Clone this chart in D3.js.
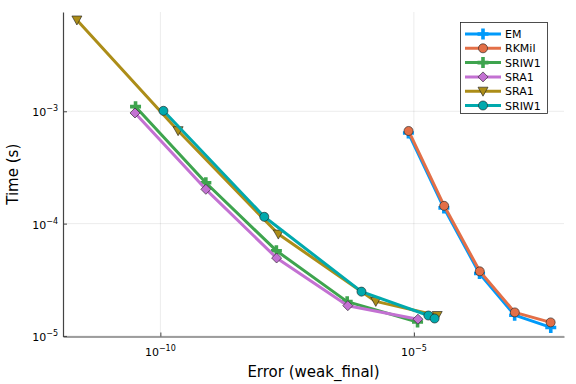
<!DOCTYPE html>
<html>
<head>
<meta charset="utf-8">
<script src="https://cdn.jsdelivr.net/npm/d3@7"></script>
<style>
  body { margin: 0; background: #fff; }
  text { font-family: "DejaVu Sans", sans-serif; fill: #000; }
</style>
</head>
<body>
<div id="wrapper"></div>
<script>
// errors (x) and times (y)
const emErr = [7.8e-6, 3.9e-5, 1.97e-4, 9.7e-4, 5.0e-3];
const emTime = [6.41e-4, 1.38e-4, 3.6e-5, 1.53e-5, 1.19e-5];

const rkmilErr = [7.85e-6, 3.95e-5, 1.99e-4, 9.77e-4, 4.97e-3];
const rkmilTime = [6.68e-4, 1.44e-4, 3.76e-5, 1.62e-5, 1.32e-5];

const sriwErr = [3.24e-11, 7.89e-10, 1.94e-8, 4.83e-7, 1.18e-5];
const sriwTime = [1.10e-3, 2.31e-4, 5.74e-5, 2.02e-5, 1.33e-5];

const sraErr = [3.16e-11, 7.89e-10, 1.96e-8, 4.97e-7, 1.20e-5];
const sraTime = [9.66e-4, 2.02e-4, 4.94e-5, 1.86e-5, 1.41e-5];

const sra2Err = [2.26e-12, 2.24e-10, 2.12e-8, 1.77e-6, 2.88e-5];
const sra2Time = [6.5e-3, 6.72e-4, 8.07e-5, 2.03e-5, 1.52e-5];

const sriw2Err = [1.15e-10, 1.12e-8, 9.25e-7, 1.93e-5, 2.56e-5];
const sriw2Time = [1.01e-3, 1.15e-4, 2.48e-5, 1.52e-5, 1.43e-5];

const seriesNames = ["EM", "RKMil", "SRIW1", "SRA1", "SRA1", "SRIW1"];
const xTicks = [1e-10, 1e-5];
const xTickExp = ["−10", "−5"];
const yTicks = [1e-3, 1e-4, 1e-5];
const yTickExp = ["−3", "−4", "−5"];

const colors = ["#009AFA", "#E36F47", "#3EA44E", "#C371D2", "#AC8D18", "#00A9AD"];
const shapes = ["plus", "circle", "plus", "diamond", "triDown", "circle"];

const allErr = [emErr, rkmilErr, sriwErr, sraErr, sra2Err, sriw2Err];
const allTime = [emTime, rkmilTime, sriwTime, sraTime, sra2Time, sriw2Time];

const series = seriesNames.map((name, i) => ({
    name,
    color: colors[i],
    shape: shapes[i],
    points: allErr[i].map((e, j) => ({ err: e, time: allTime[i][j] })),
}));

let dimensions = {
    width: 576,
    height: 384,
    margin: { top: 12, right: 12, bottom: 47.5, left: 63 },
};
dimensions.boundedWidth = dimensions.width - dimensions.margin.left - dimensions.margin.right;
dimensions.boundedHeight = dimensions.height - dimensions.margin.top - dimensions.margin.bottom;

const svg = d3.select("#wrapper").append("svg")
    .attr("width", dimensions.width)
    .attr("height", dimensions.height);

const bounds = svg.append("g")
    .attr("transform", `translate(${dimensions.margin.left},${dimensions.margin.top})`);

const xScale = d3.scaleLog()
    .domain([Math.pow(10, -11.92), Math.pow(10, -2.04)])
    .range([0, dimensions.boundedWidth]);

const yScale = d3.scaleLog()
    .domain([Math.pow(10, -5.005), Math.pow(10, -2.116)])
    .range([dimensions.boundedHeight, 0]);

// grid
bounds.append("g").selectAll("line").data(xTicks).join("line")
    .attr("x1", d => xScale(d)).attr("x2", d => xScale(d))
    .attr("y1", 0).attr("y2", dimensions.boundedHeight)
    .attr("stroke", "#000").attr("stroke-opacity", 0.1).attr("stroke-width", 0.8);
bounds.append("g").selectAll("line").data(yTicks).join("line")
    .attr("y1", d => yScale(d)).attr("y2", d => yScale(d))
    .attr("x1", 0).attr("x2", dimensions.boundedWidth)
    .attr("stroke", "#000").attr("stroke-opacity", 0.1).attr("stroke-width", 0.8);

// axes
const xAxis = bounds.append("g")
    .attr("transform", `translate(0,${dimensions.boundedHeight})`)
    .call(d3.axisBottom(xScale).tickValues(xTicks).tickSizeInner(-4).tickSizeOuter(0).tickFormat(""));
const yAxis = bounds.append("g")
    .call(d3.axisLeft(yScale).tickValues(yTicks).tickSizeInner(-4).tickSizeOuter(0).tickFormat(""));
[xAxis, yAxis].forEach(a => {
    a.select(".domain").attr("stroke", "#444").attr("stroke-width", 1.2);
    a.selectAll(".tick line").attr("stroke", "#444").attr("stroke-width", 1);
});

// tick labels with superscripts
xTicks.forEach((t, i) => {
    const lbl = bounds.append("text")
        .attr("x", xScale(t))
        .attr("y", dimensions.boundedHeight + 19)
        .attr("text-anchor", "middle")
        .style("font-size", "11px");
    lbl.append("tspan").text("10");
    lbl.append("tspan").attr("dy", -5).style("font-size", "8px").text(xTickExp[i]);
});
yTicks.forEach((t, i) => {
    const lbl = bounds.append("text")
        .attr("x", -5)
        .attr("y", yScale(t) + 5)
        .attr("text-anchor", "end")
        .style("font-size", "11px");
    lbl.append("tspan").text("10");
    lbl.append("tspan").attr("dy", -5).style("font-size", "8px").text(yTickExp[i]);
});

// axis titles
svg.append("text")
    .attr("x", dimensions.margin.left + dimensions.boundedWidth / 2)
    .attr("y", 377)
    .attr("text-anchor", "middle")
    .style("font-size", "15px")
    .text("Error (weak_final)");
svg.append("text")
    .attr("transform", `translate(18,${dimensions.margin.top + dimensions.boundedHeight / 2}) rotate(-90)`)
    .attr("text-anchor", "middle")
    .style("font-size", "15px")
    .text("Time (s)");

// marker paths
function markerPath(shape) {
    if (shape === "circle") return d3.symbol(d3.symbolCircle, 64)();
    if (shape === "diamond") return "M0,-5L5,0L0,5L-5,0Z";
    if (shape === "triDown") return "M-5,-4L5,-4L0,5Z";
    const a = 5.5, t = 1.8;
    return `M${-t},${-a}H${t}V${-t}H${a}V${t}H${t}V${a}H${-t}V${t}H${-a}V${-t}H${-t}Z`;
}

function drawMarker(g, shape, color) {
    const stroke = shape === "plus" ? "none" : "#222";
    g.append("path")
        .attr("d", markerPath(shape))
        .attr("fill", color)
        .attr("stroke", stroke)
        .attr("stroke-opacity", 0.8)
        .attr("stroke-width", 0.8);
}

const lineGenerator = d3.line()
    .x(d => xScale(d.err))
    .y(d => yScale(d.time));

series.forEach(s => {
    const g = bounds.append("g");
    g.append("path")
        .attr("d", lineGenerator(s.points))
        .attr("fill", "none")
        .attr("stroke", s.color)
        .attr("stroke-width", 3)
        .attr("stroke-linejoin", "round");
    s.points.forEach(p => {
        const m = g.append("g")
            .attr("transform", `translate(${xScale(p.err)},${yScale(p.time)})`);
        drawMarker(m, s.shape, s.color);
    });
});

// legend
const legend = svg.append("g");
legend.append("rect")
    .attr("x", 460.5).attr("y", 22.5)
    .attr("width", 87).attr("height", 91)
    .attr("fill", "#fff").attr("stroke", "#222").attr("stroke-width", 0.8);
series.forEach((s, i) => {
    const y = 34 + i * 14.3;
    const row = legend.append("g");
    row.append("line")
        .attr("x1", 465).attr("x2", 501)
        .attr("y1", y).attr("y2", y)
        .attr("stroke", s.color).attr("stroke-width", 3);
    const m = row.append("g").attr("transform", `translate(483,${y})`);
    drawMarker(m, s.shape, s.color);
    row.append("text")
        .attr("x", 505).attr("y", y + 4)
        .style("font-size", "11px")
        .text(s.name);
});
</script>
</body>
</html>
